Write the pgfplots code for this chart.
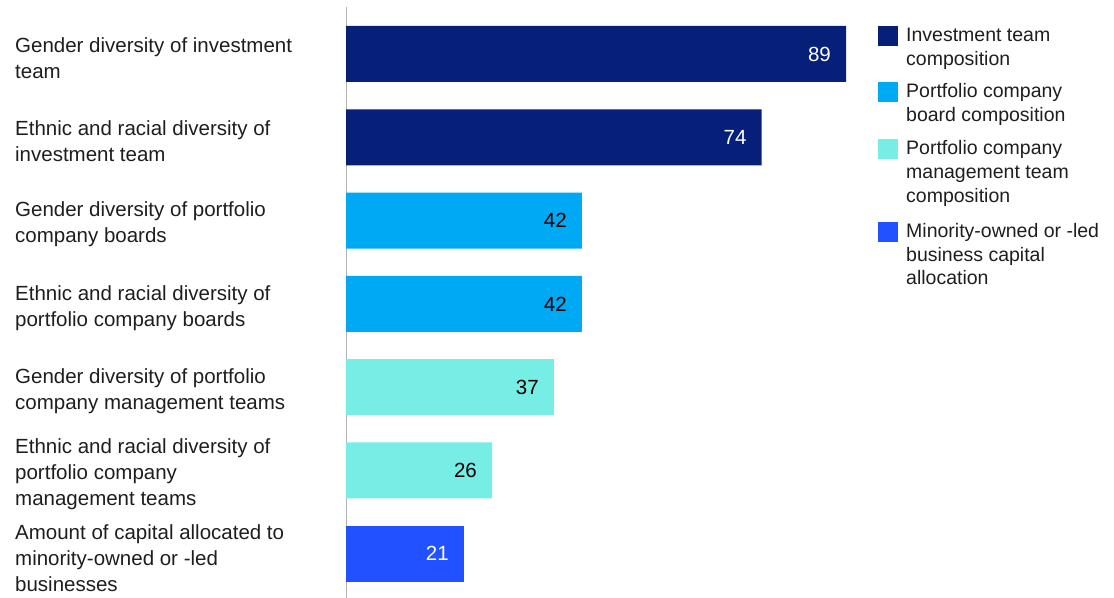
\documentclass[border=0pt]{standalone}
\usepackage{pgfplots}
\pgfplotsset{compat=1.18}
\usepackage{fontspec}
\setmainfont{Liberation Sans}
\definecolor{cNavy}{HTML}{06207A}
\definecolor{cCyan}{HTML}{00A9F4}
\definecolor{cMint}{HTML}{76EEE6}
\definecolor{cBlue}{HTML}{2251FF}
\definecolor{cText}{HTML}{1E1E1E}
\begin{document}
\begin{tikzpicture}[x=1bp,y=1bp]
\useasboundingbox (0,0) rectangle (1114,598);
\begin{axis}[
  at={(346bp,0bp)}, anchor=south west,
  scale only axis, width=561.8bp, height=591bp,
  xbar, bar shift=0pt, bar width=0.672,
  xmin=0, xmax=100,
  y dir=reverse, ymin=-0.564, ymax=6.531,
  axis x line=none,
  axis y line*=left,
  y axis line style={draw=black!30, line width=1bp},
  ytick={0,1,2,3,4,5,6},
  major tick length=0pt,
  yticklabels={{Gender diversity of investment\\team},
               {Ethnic and racial diversity of\\investment team},
               {Gender diversity of portfolio\\company boards},
               {Ethnic and racial diversity of\\portfolio company boards},
               {Gender diversity of portfolio\\company management teams},
               {Ethnic and racial diversity of\\portfolio company\\management teams},
               {Amount of capital allocated to\\minority-owned or -led\\businesses}},
  yticklabel style={anchor=west, align=left, inner sep=0pt, xshift=-331bp, yshift=-4bp,
    font=\fontsize{20.5bp}{26bp}\selectfont, text=cText},
  /pgf/number format/assume math mode=true,
  nodes near coords,
  every node near coord/.append style={anchor=east, inner sep=0pt, xshift=-15bp,
    font=\fontsize{20.5bp}{24bp}\selectfont},
  clip=false,
]
\addplot[fill=cNavy, draw=none, every node near coord/.append style={text=white}]
  coordinates {(89,0) (74,1)};
\addplot[fill=cCyan, draw=none, every node near coord/.append style={text=black}]
  coordinates {(42,2) (42,3)};
\addplot[fill=cMint, draw=none, every node near coord/.append style={text=black}]
  coordinates {(37,4) (26,5)};
\addplot[fill=cBlue, draw=none, every node near coord/.append style={text=white}]
  coordinates {(21,6)};
\end{axis}
% legend
\begin{scope}[every node/.style={anchor=base west, inner sep=0pt, text=cText,
    font=\fontsize{19.5bp}{24bp}\selectfont}]
\fill[cNavy] (878,598-46) rectangle (898,598-26);
\node at (906,598-42) {Investment team};
\node at (906,598-65.5) {composition};
\fill[cCyan] (878,598-102) rectangle (898,598-82);
\node at (906,598-98) {Portfolio company};
\node at (906,598-121.5) {board composition};
\fill[cMint] (878,598-159) rectangle (898,598-139);
\node at (906,598-155) {Portfolio company};
\node at (906,598-179) {management team};
\node at (906,598-203) {composition};
\fill[cBlue] (878,598-242) rectangle (898,598-222);
\node at (906,598-238) {Minority-owned or -led};
\node at (906,598-261.5) {business capital};
\node at (906,598-285) {allocation};
\end{scope}
\end{tikzpicture}
\end{document}
